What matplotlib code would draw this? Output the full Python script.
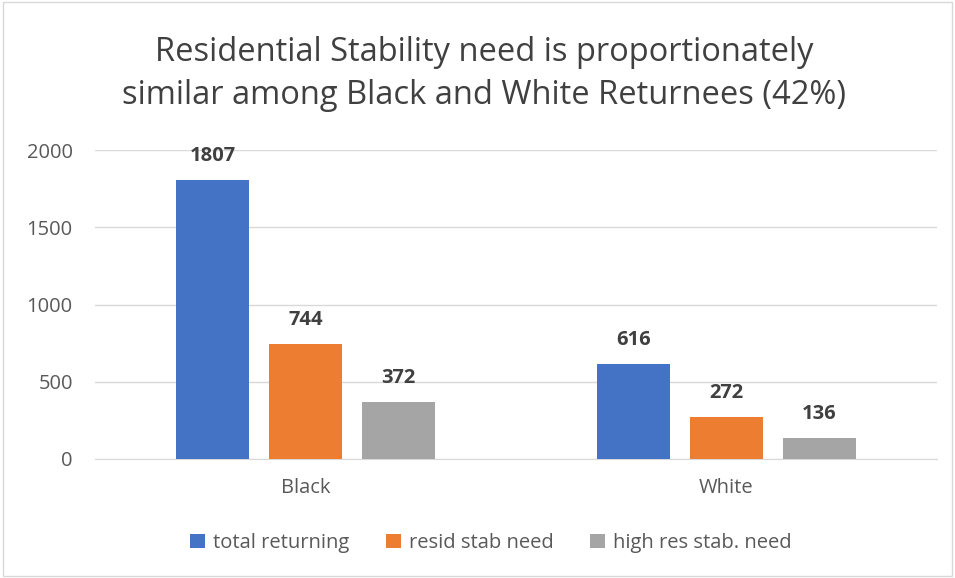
import matplotlib.pyplot as plt
import numpy as np

plt.rcParams['font.family'] = ['Open Sans', 'DejaVu Sans']

groups = ['Black', 'White']
series = ['total returning', 'resid stab need', 'high res stab. need']
total_returning = [1807, 616]
resid_stab_need = [744, 272]
high_res_stab_need = [372, 136]
colors = ['#4472C4', '#ED7D31', '#A5A5A5']

fig = plt.figure(figsize=(9.55, 5.78), dpi=100)
ax = fig.add_axes([95 / 955, 1 - 459 / 578, 842 / 955, 309 / 578])

x = np.arange(len(groups))
w = 0.173
step = 0.221
for i, (vals, name) in enumerate(zip([total_returning, resid_stab_need, high_res_stab_need], series)):
    pos = x + (i - 1) * step
    bars = ax.bar(pos, vals, w, color=colors[i], label=name, zorder=3)
    for b, v in zip(bars, vals):
        ax.text(b.get_x() + b.get_width() / 2, v + 90, str(v), ha='center', va='bottom',
                fontsize=14.5, fontweight='bold', color='#404040')

ax.set_xlim(-0.5, 1.5)
ax.set_ylim(0, 2000)
ax.set_yticks([0, 500, 1000, 1500, 2000])
ax.set_xticks(x)
ax.set_xticklabels(groups)
ax.grid(axis='y', color='#D9D9D9', linewidth=1, zorder=0)
for s in ['top', 'right', 'left']:
    ax.spines[s].set_visible(False)
ax.spines['bottom'].set_color('#D9D9D9')
ax.tick_params(axis='both', length=0, labelsize=14.5, colors='#595959')
ax.tick_params(axis='y', pad=16)
ax.tick_params(axis='x', pad=14)

fig.text(484 / 955, 1 - 74 / 578, 'Residential Stability need is proportionately\nsimilar among Black and White Returnees (42%)',
         ha='center', va='center', fontsize=23.5, color='#404040', linespacing=1.4)

fig.legend(loc='center', bbox_to_anchor=(491 / 955, 1 - 543 / 578), ncol=3, frameon=False,
           fontsize=14.5, handlelength=0.75, handleheight=0.75, columnspacing=1.8, handletextpad=0.4,
           labelcolor='#595959')

border = plt.Rectangle((0.003, 0.003), 0.994, 0.994, transform=fig.transFigure, fill=False,
                       edgecolor='#D9D9D9', linewidth=1)
fig.patches.append(border)

fig.savefig('out.png', dpi=100)
